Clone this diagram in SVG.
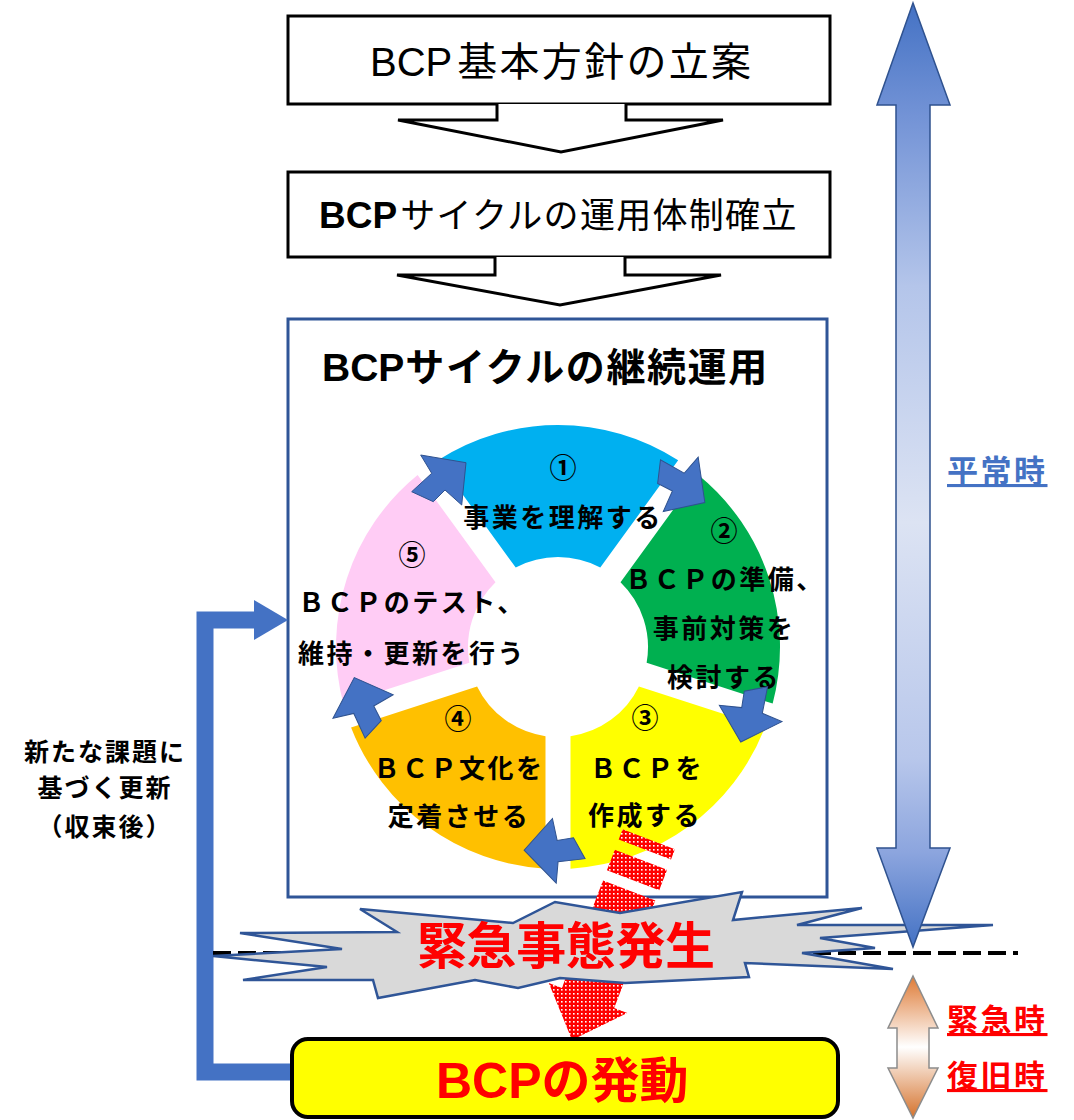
<svg xmlns="http://www.w3.org/2000/svg" xmlns:xlink="http://www.w3.org/1999/xlink" width="1074" height="1120" viewBox="0 0 1074 1120">
<style>
.box{fill:#fff;stroke:#000;stroke-width:3}
.chev{fill:#fff;stroke:#000;stroke-width:3;stroke-linejoin:miter}
.lat{font-family:'Liberation Sans',Arial,sans-serif}
.jp{font-family:'Noto Sans CJK JP',sans-serif}
.cj{font-family:'Noto Sans CJK JP',sans-serif;font-weight:700}
.ring{font-size:26px;letter-spacing:2.5px;text-anchor:middle;fill:#000}
.num{font-size:27px;text-anchor:middle;fill:#000}
.ra{fill:#4472C4;stroke:#2F528F;stroke-width:1}
</style>
<defs>
<linearGradient id="gBlue" x1="0" y1="0" x2="0" y2="1">
<stop offset="0" stop-color="#4472C4"/>
<stop offset="0.12" stop-color="#7393D6"/>
<stop offset="0.3" stop-color="#B4C5EA"/>
<stop offset="0.55" stop-color="#DCE3F3"/>
<stop offset="0.8" stop-color="#B8C7EB"/>
<stop offset="0.9" stop-color="#8CA5DE"/>
<stop offset="1" stop-color="#4472C4"/>
</linearGradient>
<linearGradient id="gOrange" x1="0" y1="0" x2="0" y2="1">
<stop offset="0" stop-color="#DE7A35"/>
<stop offset="0.5" stop-color="#FFFFFF"/>
<stop offset="1" stop-color="#D5722C"/>
</linearGradient>
<pattern id="dots" width="4" height="4" patternUnits="userSpaceOnUse">
<rect width="4" height="4" fill="#FF0000"/>
<rect x="1" y="1" width="1.6" height="1.6" fill="#FFFFFF"/>
</pattern>
<path id="seg" d="M437.83 460.33 A222 222 0 0 1 678.17 460.33 L600.28 567.54 A90 90 0 0 0 515.72 567.54 Z"/>
<path id="ra" d="M420.7 455 L466 462.7 L461.7 505 L445 490 L433.3 501.7 L411.7 491.7 L431.7 473.3 Z"/>
</defs>
<rect width="1074" height="1120" fill="#fff"/>

<g id="box1">
<rect class="box" x="288" y="16" width="542" height="88"/>
<text x="370" y="76" fill="#000"><tspan class="lat" font-size="40">BCP</tspan><tspan class="jp" font-size="40" dx="5" letter-spacing="2.3">基本方針の立案</tspan></text>
</g>
<g id="box2">
<rect class="box" x="288" y="172" width="542" height="85"/>
<text x="319" y="228" fill="#000"><tspan class="lat" font-size="37" font-weight="700">BCP</tspan><tspan class="jp" font-size="35" dx="3" letter-spacing="1.3">サイクルの運用体制確立</tspan></text>
</g>

<g id="cycle-frame">
<rect x="288" y="319" width="539" height="578" fill="#fff" stroke="#2F5597" stroke-width="3"/>
<text x="322" y="381" fill="#000" font-weight="700"><tspan class="lat" font-size="39">BCP</tspan><tspan class="cj" font-size="39" dx="1" letter-spacing="1.6">サイクルの継続運用</tspan></text>
</g>

<g id="step1">
<use href="#seg" fill="#00B0F0"/>
<text class="cj num" x="563" y="478">①</text>
<text class="cj ring" x="563" y="527">事業を理解する</text>
</g>
<g id="step2">
<use href="#seg" fill="#00B050" transform="rotate(72 558 647)"/>
<text class="cj num" x="724" y="541">②</text>
<text class="cj ring" x="725" y="589">ＢＣＰの準備、</text>
<text class="cj ring" x="724" y="638">事前対策を</text>
<text class="cj ring" x="724" y="687">検討する</text>
</g>
<g id="step3">
<use href="#seg" fill="#FFFF00" transform="rotate(144 558 647)"/>
<text class="cj num" x="645" y="728">③</text>
<text class="cj ring" x="647" y="778">ＢＣＰを</text>
<text class="cj ring" x="645" y="825">作成する</text>
</g>
<g id="step4">
<use href="#seg" fill="#FFC000" transform="rotate(216 558 647)"/>
<text class="cj num" x="458" y="729">④</text>
<text class="cj ring" x="459" y="778">ＢＣＰ文化を</text>
<text class="cj ring" x="459" y="826">定着させる</text>
</g>
<g id="step5">
<use href="#seg" fill="#FFCCF5" transform="rotate(288 558 647)"/>
<text class="cj num" x="412" y="565">⑤</text>
<text class="cj ring" x="412" y="612">ＢＣＰのテスト、</text>
<text class="cj ring" x="412" y="663">維持・更新を行う</text>
</g>

<g id="connectors">
<path class="chev" d="M497 104 V120 H398 L561 152 L723 120 H626 V104"/>
<path class="chev" d="M495 257 V275 H397 L560 305 L721 275 H625 V257"/>
<use href="#ra" class="ra"/>
<use href="#ra" class="ra" transform="rotate(72 558 647)"/>
<use href="#ra" class="ra" transform="rotate(144 558 647)"/>
<use href="#ra" class="ra" transform="rotate(216 558 647)"/>
<use href="#ra" class="ra" transform="rotate(288 558 647)"/>
<g id="emergency-arrow" fill="url(#dots)">
<polygon points="603,880.6 561.9,988 548.8,983 572,1040 627.3,1013 614.2,1008 655.3,900.6"/>
<polygon points="614.8,849.7 667.1,869.7 659.2,890.3 606.9,870.3"/>
<polygon points="622.6,829.2 674.9,849.2 671,859.5 618.7,839.5"/>
</g>
<g id="feedback-arrow">
<polyline points="293,1072 205,1072 205,620 256,620" fill="none" stroke="#4472C4" stroke-width="17" stroke-linejoin="miter"/>
<polygon points="254,600 288,620 254,640" fill="#4472C4"/>
</g>
<line x1="213" y1="953" x2="1018" y2="953" stroke="#000" stroke-width="4" stroke-dasharray="18 7"/>
</g>

<g id="feedback-label" class="cj" font-size="25" fill="#000" text-anchor="middle" letter-spacing="2">
<text x="105" y="761">新たな課題に</text>
<text x="105" y="797">基づく更新</text>
<text x="105" y="836">（収束後）</text>
</g>

<g id="emergency">
<polygon points="360,909 513,923 555,902 620,913 742,892 733,920 862,908 797,925 993,925 820,938 875,948 802,953 893,969 745,963 749,977 625,983 560,978 518,988 475,980 378,998 373,980 243,980 327,967 213,956 342,949 240,933 397,932" fill="#D9D9D9" stroke="#2F5597" stroke-width="2.5" stroke-linejoin="miter"/>
<text class="cj" x="417" y="964" font-size="50" textLength="298" lengthAdjust="spacing" fill="#FF0000">緊急事態発生</text>
</g>

<g id="bcp-activation">
<rect x="292" y="1039" width="546" height="78" rx="16" fill="#FFFF00" stroke="#000" stroke-width="4"/>
<text x="436" y="1098" fill="#FF0000" font-weight="700"><tspan class="lat" font-size="50">BCP</tspan><tspan class="cj" font-size="49">の発動</tspan></text>
</g>

<g id="time-axis">
<polygon points="913,3 950,105 930,105 930,848 950,848 913,947 877,848 896,848 896,105 877,105" fill="url(#gBlue)" stroke="#2F528F" stroke-width="1.5"/>
<polygon points="913,976 938,1028 929,1028 929,1068 938,1068 913,1118 888,1068 897,1068 897,1028 888,1028" fill="url(#gOrange)" stroke="#8C8C8C" stroke-width="1.5"/>
<text class="cj" x="947" y="482" font-size="31" letter-spacing="2.5" fill="#4472C4" text-decoration="underline">平常時</text>
<text class="cj" x="947" y="1031" font-size="31" letter-spacing="2.5" fill="#FF0000" text-decoration="underline">緊急時</text>
<text class="cj" x="947" y="1087" font-size="31" letter-spacing="2.5" fill="#FF0000" text-decoration="underline">復旧時</text>
</g>
</svg>
